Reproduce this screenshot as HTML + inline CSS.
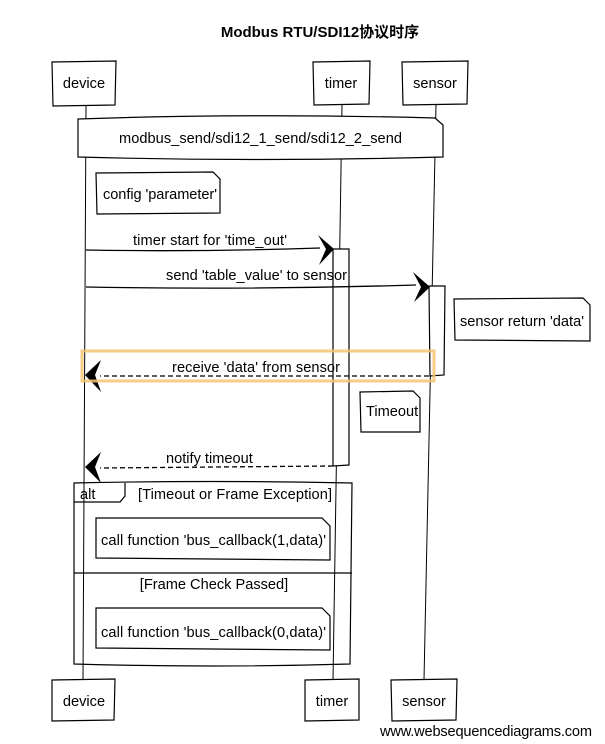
<!DOCTYPE html>
<html><head><meta charset="utf-8"><style>
body{margin:0;background:#fff}
svg{display:block}
text{font-family:"Liberation Sans","Noto Sans CJK SC",sans-serif;font-size:14.6px;fill:#000}
</style></head><body>
<svg width="605" height="744" viewBox="0 0 605 744" xmlns="http://www.w3.org/2000/svg">
<g fill="none" stroke="#000" stroke-width="1">
<line x1="86" y1="105" x2="83" y2="680"/>
<line x1="342" y1="105" x2="333" y2="680"/>
<line x1="436" y1="105" x2="424" y2="680"/>
</g>
<text x="320" y="37" text-anchor="middle" font-weight="bold" style="font-size:15px">Modbus RTU/SDI12协议时序</text>
<g fill="#fff" stroke="#000" stroke-width="1.2">
<path d="M52 62 L116 61 L115 105 L53 106 Z"/>
<path d="M313 62 L370 61 L369 104 L314 105 Z"/>
<path d="M402 62 L468 61 L467 104 L403 105 Z"/>
<path d="M52 680 L115 679 L114 720 L52 721 Z"/>
<path d="M305 680 L359 679 L359 720 L305 721 Z"/>
<path d="M391 680 L457 679 L456 720 L392 721 Z"/>
<path d="M78 119 Q250 113 435 118 L443 125 L443 157 Q260 162 78 157 Z"/>
<path d="M96 173 L213 172 L220 179 L220 213 L97 214 Z"/>
<path d="M333 249 L349 249 L349 465 L333 466 Z"/>
<path d="M429 286 L445 286 L444 375 L430 376 Z"/>
<path d="M454 299 L583 298 L590 305 L590 341 L455 340 Z"/>
<path d="M360 392 L413 391 L420 398 L420 432 L361 432 Z"/>
</g>
<g fill="none" stroke="#000" stroke-width="1.2">
<path d="M74 483 Q210 480 352 483 L350 664 Q210 668 74 664 Z"/>
<path d="M74 502 L120 502 L125 496 L125 483"/>
<line x1="74" y1="573" x2="352" y2="573"/>
</g>
<g fill="#fff" stroke="#000" stroke-width="1.2">
<path d="M96 518 L322 518 L330 526 L330 560 L96 558 Z"/>
<path d="M96 608 L322 608 L330 616 L330 650 L96 648 Z"/>
</g>
<g stroke="#000" stroke-width="1.3" fill="none">
<path d="M86 250 Q200 252 320 248"/>
<path d="M86 287 Q250 290 416 285"/>
<path d="M429 376 L100 376" stroke-dasharray="5,3"/>
<path d="M333 466 L100 468" stroke-dasharray="5,3"/>
</g>
<g fill="#000">
<path d="M318 235 L334 249 L319 265 L326 249 Z"/>
<path d="M413 272 L430 287 L414 302 L421 287 Z"/>
<path d="M101 360 L85 375 L101 392 L95 375 Z"/>
<path d="M101 452 L85 467 L101 483 L95 467 Z"/>
</g>
<rect x="82" y="351" width="352" height="30" fill="none" stroke="#f5c46e" stroke-width="3" opacity="0.85"/>
<text x="119" y="143" textLength="283">modbus_send/sdi12_1_send/sdi12_2_send</text>
<text x="103" y="199" textLength="114">config 'parameter'</text>
<text x="133" y="245" textLength="154">timer start for 'time_out'</text>
<text x="166" y="280" textLength="181">send 'table_value' to sensor</text>
<text x="460" y="326" textLength="124">sensor return 'data'</text>
<text x="172" y="372" textLength="168">receive 'data' from sensor</text>
<text x="366" y="416">Timeout</text>
<text x="166" y="463">notify timeout</text>
<text x="80" y="499">alt</text>
<text x="138" y="499" textLength="194">[Timeout or Frame Exception]</text>
<text x="101" y="545" textLength="225">call function 'bus_callback(1,data)'</text>
<text x="214" y="589" text-anchor="middle">[Frame Check Passed]</text>
<text x="101" y="637" textLength="225">call function 'bus_callback(0,data)'</text>
<text x="84" y="88" text-anchor="middle">device</text>
<text x="341" y="88" text-anchor="middle">timer</text>
<text x="435" y="88" text-anchor="middle">sensor</text>
<text x="84" y="706" text-anchor="middle">device</text>
<text x="332" y="706" text-anchor="middle">timer</text>
<text x="424" y="706" text-anchor="middle">sensor</text>
<text x="380" y="736" textLength="212">www.websequencediagrams.com</text>
</svg>
</body></html>
